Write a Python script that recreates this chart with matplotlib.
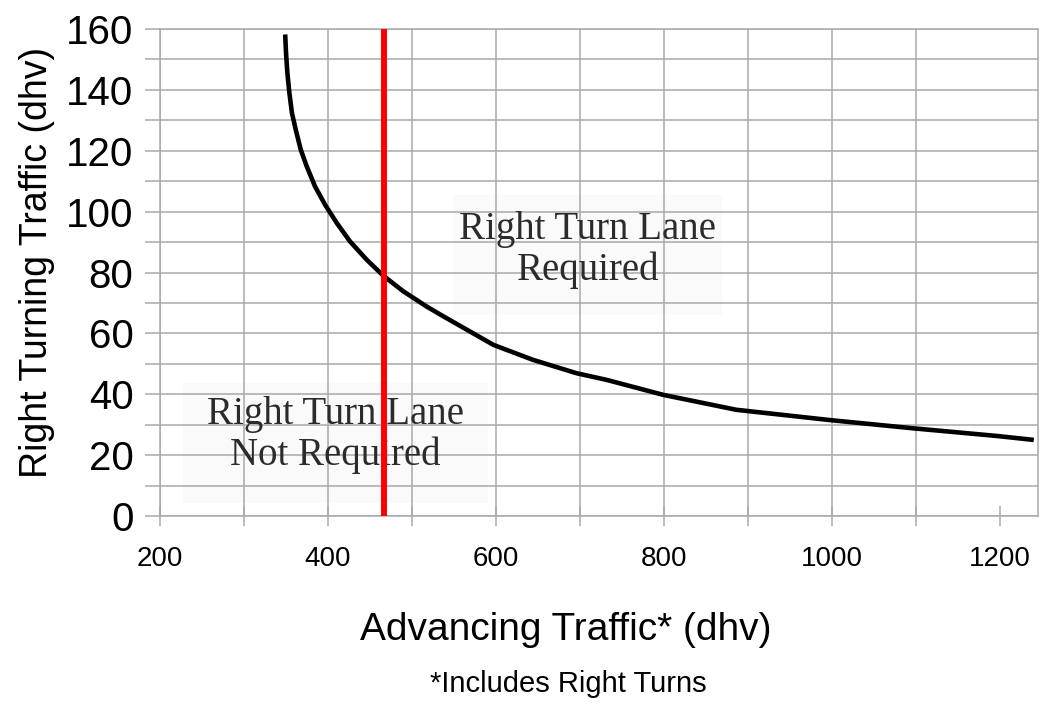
import matplotlib

matplotlib.use("Agg")
import matplotlib.pyplot as plt
import numpy as np
from matplotlib.patches import Rectangle

# threshold curve
ADVANCING = [349, 350, 351.6, 354, 357, 361.5, 367.5, 374.6, 384.5, 396.4,
             410.3, 426.2, 446, 466, 489.7, 517.5, 537.3, 597, 644, 696,
             732, 799, 886, 998, 1097, 1196, 1240]
RIGHT_TURNING = [158.2, 152.2, 145.6, 139, 132.5, 127, 120.4, 114.9, 108.3,
                 102.3, 96.3, 90.2, 84.2, 78.9, 73.8, 68.8, 65.6, 56.2, 51.3,
                 46.9, 44.7, 39.8, 34.9, 31.5, 28.8, 26.3, 25]

# vertical red marker
MARKER_X = 467
MARKER_Y = [0, 160]

X_TICKS = [200, 400, 600, 800, 1000, 1200]
Y_TICKS = [0, 20, 40, 60, 80, 100, 120, 140, 160]

LABEL_REQUIRED = "Right Turn Lane\nRequired"
LABEL_NOT_REQUIRED = "Right Turn Lane\nNot Required"

GRID_COLOR = "#a9a9a9"
SANS = "Liberation Sans"
SERIF = "Liberation Serif"


def main() -> None:
    fig = plt.figure(figsize=(10.47, 7.19), dpi=100)
    ax = fig.add_axes([0.1528, 0.2823, 0.8386, 0.6774])

    ax.set_xlim(200, 1245)
    ax.set_ylim(0, 160)

    ax.set_xticks(X_TICKS)
    ax.set_xticks(np.arange(300, 1200, 100), minor=True)
    ax.set_yticks(Y_TICKS)
    ax.set_yticks(np.arange(10, 160, 20), minor=True)

    ax.grid(which="both", color=GRID_COLOR, lw=1.1, zorder=0)
    # no full grid line at the last x tick in the original
    ax.xaxis.get_major_ticks()[-1].gridline.set_visible(False)

    for sp in ax.spines.values():
        sp.set_color(GRID_COLOR)
        sp.set_linewidth(1.1)

    ax.tick_params(axis="x", which="both", direction="inout", length=15,
                   width=1.1, color=GRID_COLOR, labelsize=20, pad=14)
    ax.tick_params(axis="y", which="both", direction="out", length=11,
                   width=1.1, color=GRID_COLOR, labelsize=29, pad=8)
    for lab in ax.get_xticklabels() + ax.get_yticklabels():
        lab.set_fontfamily(SANS)

    # annotation boxes (light fill hides the grid behind the text)
    ax.add_patch(Rectangle((549, 66), 320, 39.6, facecolor="#fafafa",
                           edgecolor="none", zorder=1))
    ax.add_patch(Rectangle((227, 4.3), 363, 39.5, facecolor="#fafafa",
                           edgecolor="none", zorder=1))
    ax.text(709, 87.5, LABEL_REQUIRED, ha="center", va="center",
            family=SERIF, fontsize=28, color="#2b2b2b",
            linespacing=1.12, zorder=2)
    ax.text(409, 26.5, LABEL_NOT_REQUIRED, ha="center", va="center",
            family=SERIF, fontsize=28, color="#2b2b2b",
            linespacing=1.12, zorder=2)

    ax.plot(ADVANCING, RIGHT_TURNING, color="black", lw=3.3,
            solid_capstyle="butt", solid_joinstyle="round", zorder=3)
    ax.plot([MARKER_X, MARKER_X], MARKER_Y, color="#ff0000", lw=4.3,
            solid_capstyle="butt", zorder=4, clip_on=False)

    ax.set_ylabel("Right Turning Traffic (dhv)", family=SANS, fontsize=27)
    ax.yaxis.set_label_coords(-0.12, 0.52)
    fig.text(0.540, 0.124, "Advancing Traffic* (dhv)", ha="center",
             va="center", family=SANS, fontsize=28)
    fig.text(0.543, 0.048, "*Includes Right Turns", ha="center",
             va="center", family=SANS, fontsize=21)

    fig.savefig("out.png", dpi=100)
    plt.close(fig)


if __name__ == "__main__":
    main()
